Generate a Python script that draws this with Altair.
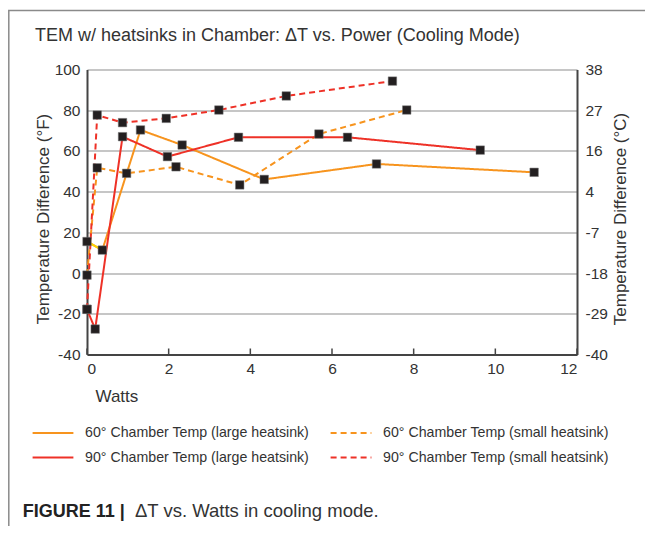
import altair as alt
import pandas as pd

FONT = "Liberation Sans"

series_names = [
    "60° Chamber Temp (large heatsink)",
    "60° Chamber Temp (small heatsink)",
    "90° Chamber Temp (large heatsink)",
    "90° Chamber Temp (small heatsink)",
]
series_colors = ["#F7941E", "#F7941E", "#EE3127", "#EE3127"]
series_dashes = [[1, 0], [6, 4], [1, 0], [6, 4]]

# Watts / temperature difference (°F)
w60_large = [0, 0.375, 1.31, 2.33, 4.34, 7.09, 10.95]
t60_large = [15.5, 11.3, 70.3, 62.9, 46.0, 53.6, 49.5]
w60_small = [0, 0.25, 0.97, 2.18, 3.74, 5.68, 7.83]
t60_small = [-1.0, 51.7, 49.0, 52.2, 43.3, 68.3, 80.1]
w90_large = [0, 0.2, 0.87, 1.97, 3.71, 6.38, 9.63]
t90_large = [-17.8, -27.5, 67.0, 57.2, 66.7, 66.7, 60.4]
w90_small = [0, 0.25, 0.87, 1.94, 3.23, 4.88, 7.48]
t90_small = [-17.8, 77.6, 73.9, 76.0, 80.1, 87.0, 94.3]

x_ticks = [0, 2, 4, 6, 8, 10, 12]
y_ticks = [-40, -20, 0, 20, 40, 60, 80, 100]

title_text = "TEM w/ heatsinks in Chamber: \u0394T vs. Power (Cooling Mode)"
caption_bold = "FIGURE 11 |"
caption_rest = "\u0394T vs. Watts in cooling mode."

rows = []
for name, ws, ts in zip(series_names,
                        [w60_large, w60_small, w90_large, w90_small],
                        [t60_large, t60_small, t90_large, t90_small]):
    for i, (w, t) in enumerate(zip(ws, ts)):
        rows.append({"series": name, "idx": i, "watts": w, "temp": t})
df = pd.DataFrame(rows)
ticks_df = pd.DataFrame({"watts": x_ticks})
one = pd.DataFrame({"a": [0]})

W, H = 490, 285
xscale = alt.Scale(domain=[0, 12], nice=False, zero=False)
yscale = alt.Scale(domain=[-40, 100], nice=False, zero=False)
TXT = "#333333"

legend_kw = dict(
    title=None, orient="none", legendX=-47, legendY=350, columns=2,
    direction="horizontal",
    symbolType="M-1.7,0H1.7", symbolSize=576, symbolStrokeWidth=2,
    labelFontSize=14.2, labelFont=FONT, labelColor=TXT, labelOffset=19,
    columnPadding=16, rowPadding=4, labelLimit=400,
)

lines = alt.Chart(df).mark_line(strokeWidth=2).encode(
    x=alt.X("watts:Q", scale=xscale, axis=alt.Axis(
        values=x_ticks, title="Watts", ticks=False, grid=False,
        domainColor="#444444", domainWidth=2, labelFontSize=15.5, labelFont=FONT,
        labelColor=TXT, labelPadding=7, labelExpr="'' + datum.value",
        titleFont=FONT, titleFontSize=17,
        titleFontWeight="normal", titleColor=TXT, titleAnchor="start",
        titleAlign="left", titleBaseline="alphabetic", titleX=8, titleY=47)),
    y=alt.Y("temp:Q", scale=yscale, axis=alt.Axis(
        values=y_ticks, title="Temperature Difference (°F)", ticks=False,
        grid=True, gridColor="#b3b3b3", gridWidth=1.5,
        domainColor="#444444", domainWidth=2, labelFontSize=15.5, labelFont=FONT,
        labelColor=TXT, labelPadding=7, labelExpr="'' + datum.value",
        titleFont=FONT, titleFontSize=17,
        titleFontWeight="normal", titleColor=TXT, titleAngle=270,
        titleAlign="center", titleBaseline="middle", titleX=-44, titleY=149)),
    color=alt.Color("series:N", scale=alt.Scale(domain=series_names, range=series_colors),
                    legend=alt.Legend(**legend_kw)),
    strokeDash=alt.StrokeDash("series:N", scale=alt.Scale(domain=series_names, range=series_dashes),
                              legend=alt.Legend(**legend_kw)),
    order="idx:Q",
)

yellow = alt.Chart(df).transform_filter(
    (alt.datum.series == series_names[0]) & (alt.datum.idx < 2)
).mark_line(strokeWidth=2, color="#FFD400").encode(
    x=alt.X("watts:Q", scale=xscale),
    y=alt.Y("temp:Q", scale=yscale, axis=None),
    order="idx:Q",
)

points = alt.Chart(df).mark_square(size=72, color="#231f20", opacity=1,
                                   stroke="#777777", strokeWidth=0.5).encode(
    x=alt.X("watts:Q", scale=xscale),
    y=alt.Y("temp:Q", scale=yscale, axis=alt.Axis(
        orient="right", values=y_ticks, title="Temperature Difference (°C)",
        labelExpr="'' + round((datum.value - 32) * 5 / 9)",
        ticks=False, grid=False, domainColor="#444444", domainWidth=2,
        labelFontSize=15.5, labelFont=FONT, labelColor=TXT, labelPadding=8,
        titleFont=FONT, titleFontSize=17, titleFontWeight="normal",
        titleColor=TXT, titleAngle=270, titleAlign="center",
        titleBaseline="middle", titleX=43, titleY=149)),
)

xticks = alt.Chart(ticks_df).mark_rule(color="#444444", strokeWidth=1.5).encode(
    x=alt.X("watts:Q", scale=xscale),
    y=alt.value(H),
    y2=alt.value(H - 6),
)

border = alt.Chart(one).mark_rect(fillOpacity=0, stroke="#8a8a8a", strokeWidth=1.5).encode(
    x=alt.value(-78.2), x2=alt.value(W + 200), y=alt.value(-59), y2=alt.value(H + 300)
)

title = alt.Chart(one).mark_text(align="left", baseline="alphabetic", font=FONT,
                                 fontSize=18, color=TXT).encode(
    x=alt.value(-52), y=alt.value(-28.8), text=alt.value(title_text))

cap1 = alt.Chart(one).mark_text(align="left", baseline="alphabetic", font=FONT,
                                fontSize=18, fontWeight="bold", color="#222222").encode(
    x=alt.value(-64.3), y=alt.value(447.2), text=alt.value(caption_bold))
cap2 = alt.Chart(one).mark_text(align="left", baseline="alphabetic", font=FONT,
                                fontSize=18.5, color=TXT).encode(
    x=alt.value(48), y=alt.value(447.2), text=alt.value(caption_rest))

chart = alt.layer(lines, yellow, points, xticks, border, title, cap1, cap2).resolve_scale(
    y="independent"
).properties(
    width=W, height=H,
    autosize=alt.AutoSizeParams(type="none"),
    padding={"left": 79, "top": 61.5, "right": 68, "bottom": 171.5},
).configure_view(stroke=None)

chart.save("out.html", embed_options={"renderer": "svg", "actions": False})
